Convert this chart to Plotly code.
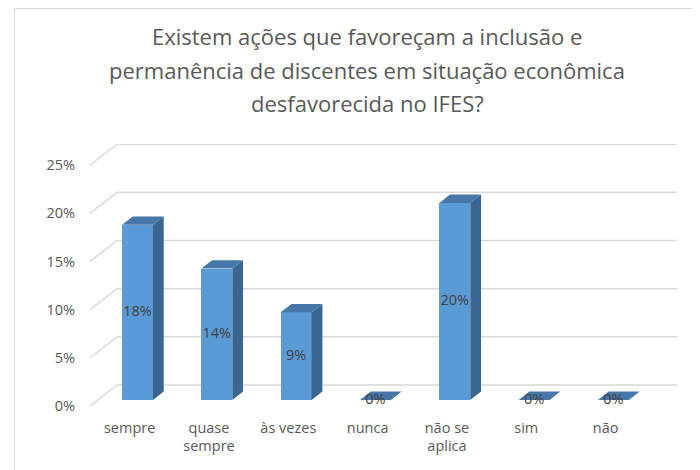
import plotly.graph_objects as go

# chart data
categories = ["sempre", "quase<br>sempre", "às vezes", "nunca", "não se<br>aplica", "sim", "não"]
values = [0.1818, 0.1364, 0.0909, 0.0, 0.2045, 0.0, 0.0]
y_ticks = [0, 0.05, 0.10, 0.15, 0.20, 0.25]
title_lines = [
    "Existem ações que favoreçam a inclusão e",
    "permanência de discentes em situação econômica",
    "desfavorecida no IFES?",
]

FONT = "Open Sans"
GRID = "#D9D9D9"
FRONT = "#5B9BD5"
TOP = "#4677A8"
SIDE = "#3A6690"

# fake 3d geometry (in axis units)
DX, DY = 0.34, 0.0218      # depth of the floor / walls
F0 = 0.29                  # bar front face depth fraction
BD = 0.40                  # bar depth fraction
W = 0.39                   # bar width
X0, X1 = -0.5, 6.9
Y0, Y1 = 0.0, 0.272

xs = list(range(len(categories)))
cx = [i + F0 * DX for i in xs]
base = F0 * DY
dx, dy = BD * DX, BD * DY

fig = go.Figure()

# front faces
fig.add_trace(go.Bar(
    x=cx, y=values, base=base, width=W,
    marker=dict(color=FRONT, line=dict(width=0)),
    hoverinfo="skip", showlegend=False,
))

# top and side faces
top_x, top_y, side_x, side_y = [], [], [], []
for x, v in zip(cx, values):
    xl, xr, t = x - W / 2, x + W / 2, base + v
    top_x += [xl, xr, xr + dx, xl + dx, xl, None]
    top_y += [t, t, t + dy, t + dy, t, None]
    if v > 0:
        side_x += [xr, xr + dx, xr + dx, xr, xr, None]
        side_y += [base, base + dy, t + dy, t, base, None]

fig.add_trace(go.Scatter(x=side_x, y=side_y, mode="lines", fill="toself",
                         fillcolor=SIDE, line=dict(width=0), hoverinfo="skip",
                         showlegend=False))
fig.add_trace(go.Scatter(x=top_x, y=top_y, mode="lines", fill="toself",
                         fillcolor=TOP, line=dict(width=0), hoverinfo="skip",
                         showlegend=False))

# data labels
fig.add_trace(go.Scatter(
    x=cx, y=[base + v / 2 for v in values], mode="text",
    text=[f"{round(v * 100)}%" for v in values],
    textfont=dict(family=FONT, size=14.5, color="#404040"),
    hoverinfo="skip", showlegend=False, cliponaxis=False,
))

# back wall gridlines and side wall diagonals
shapes = []
for t in y_ticks:
    shapes.append(dict(type="line", xref="x", yref="y", layer="below",
                       x0=X0 + DX, x1=X1, y0=t + DY, y1=t + DY,
                       line=dict(color=GRID, width=1.5)))
    shapes.append(dict(type="line", xref="x", yref="y", layer="below",
                       x0=X0, x1=X0 + DX, y0=t, y1=t + DY,
                       line=dict(color=GRID, width=1.5)))

# page body has an 8px margin, so the figure is a bit smaller than the window
FW, FH = 692, 462
L, R, T, B = 82, 23, 136, 64
pw, ph = FW - L - R, FH - T - B

# chart border
shapes.append(dict(type="rect", xref="paper", yref="paper", layer="below",
                   x0=(6.5 - L) / pw, x1=(FW + 10 - L) / pw,
                   y0=(FH - B - FH - 10) / ph, y1=(FH - B - 0.5) / ph,
                   line=dict(color=GRID, width=1)))

annotations = []
for line, py in zip(title_lines, [28, 62, 95]):
    annotations.append(dict(text=line, xref="paper", yref="paper",
                            x=(359 - L) / pw, y=(FH - B - py) / ph,
                            xanchor="center", yanchor="middle", showarrow=False,
                            font=dict(family=FONT, size=22, color="#595959")))

fig.update_layout(
    width=FW, height=FH,
    margin=dict(l=L, r=R, t=T, b=B),
    paper_bgcolor="white", plot_bgcolor="white",
    shapes=shapes, annotations=annotations,
    bargap=0, showlegend=False,
    font=dict(family=FONT, size=14.5, color="#595959"),
    xaxis=dict(range=[X0, X1], tickvals=xs, ticktext=categories,
               showgrid=False, zeroline=False, showline=False,
               ticks="", ticklabelstandoff=11, fixedrange=True),
    yaxis=dict(range=[Y0, Y1], tickvals=y_ticks, tickformat=".0%",
               showgrid=False, zeroline=False, showline=False,
               ticks="", ticklabelstandoff=14, fixedrange=True),
)

fig.write_html("out.html")
